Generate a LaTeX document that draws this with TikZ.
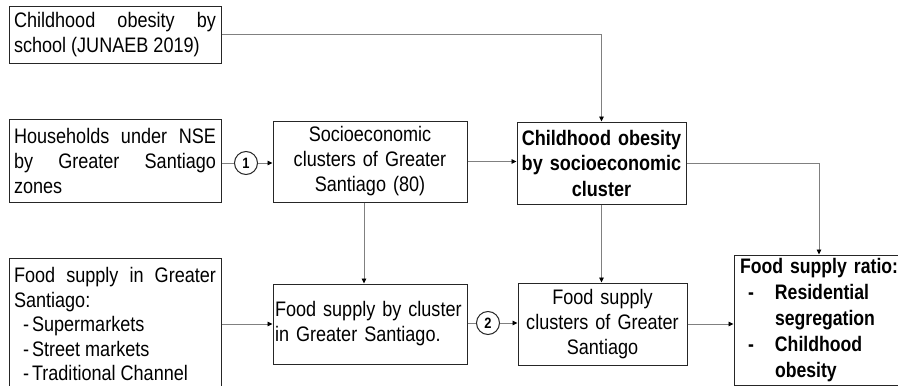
\documentclass[tikz,border=0pt]{standalone}
\usepackage{fontspec}
\setmainfont{Liberation Sans}[FakeStretch=0.86]
\newfontfamily\ratiofont{Liberation Sans}[FakeStretch=0.84]
\usetikzlibrary{arrows.meta}

\begin{document}
\begin{tikzpicture}[x=1pt, y=-1pt,
    box/.style={draw=black!85, line width=1pt, inner xsep=5pt, inner ysep=0pt,
        font=\fontsize{21}{25}\selectfont},
    conn/.style={draw=black!50, line width=0.9pt},
    arr/.style={conn, -{Triangle[length=5pt, width=4.5pt, black]}},
    num/.style={draw=black!85, circle, line width=1pt, inner sep=0pt, minimum size=23pt,
        font=\fontsize{15}{15}\selectfont\bfseries}]
    \clip (0,0) rectangle (898,386);
    \node[box, text width=202pt, minimum height=57pt, align=justify] (obschool) at (115,34.5)
        {Childhood obesity by\linebreak school (JUNAEB 2019)};
    \node[box, text width=202pt, minimum height=83pt, align=justify] (house) at (115,160.5)
        {Households under NSE\linebreak by Greater Santiago\linebreak zones};
    \node[box, text width=184pt, minimum height=81pt, align=center] (socio) at (370,161.5)
        {Socioeconomic\\ clusters of Greater\\ Santiago (80)};
    \node[box, text width=163pt, inner xsep=3pt, minimum height=82pt, align=center,
        font=\fontsize{21}{25.5}\selectfont\bfseries] (obclust) at (601.5,163)
        {Childhood obesity\\ by socioeconomic\\ cluster};
    \node[box, text width=202pt, minimum height=132pt, align=justify,
        font=\fontsize{21}{24.5}\selectfont] (fsupply) at (115,324)
        {Food supply in Greater\linebreak Santiago:\\
        \hspace*{9pt}-\hspace{3pt}Supermarkets\\
        \hspace*{9pt}-\hspace{3pt}Street markets\\
        \hspace*{9pt}-\hspace{3pt}Traditional Channel};
    \node[box, text width=190pt, inner xsep=2pt, minimum height=80pt, align=left] (fbycl) at (370,324)
        {Food supply by cluster\\ in Greater Santiago.};
    \node[box, text width=163pt, inner xsep=3pt, minimum height=82pt, align=center] (fclust) at (602.5,324)
        {Food supply\\ clusters of Greater\\ Santiago};
    \node[box, text width=178pt, inner xsep=6pt, minimum height=130pt, align=left,
        font=\fontsize{21}{26}\ratiofont\bfseries] (ratio) at (829,320)
        {Food supply ratio:\\
        \makebox[35pt][l]{\hspace*{8pt}-}Residential\\
        \hspace*{35pt}segregation\\
        \makebox[35pt][l]{\hspace*{8pt}-}Childhood\\
        \hspace*{35pt}obesity};
    \node[num] (c1) at (246,163) {1};
    \node[num] (c2) at (488,323) {2};
    \draw[arr] (obschool.east) -| (obclust.north);
    \draw[conn] (c1 -| house.east) -- (c1);
    \draw[arr] (c1) -- (c1 -| socio.west);
    \draw[arr] (socio.east) -- (socio.east -| obclust.west);
    \draw[arr] (obclust.east) -| ([xshift=-10pt]ratio.north);
    \draw[arr] ([xshift=-6pt]socio.south) -- ([xshift=-6pt]socio.south |- fbycl.north);
    \draw[arr] (fsupply.east) -- (fsupply.east -| fbycl.west);
    \draw[conn] (c2 -| fbycl.east) -- (c2);
    \draw[arr] (c2) -- (c2 -| fclust.west);
    \draw[arr] (obclust.south) -- (obclust.south |- fclust.north);
    \draw[arr] (fclust.east) -- (fclust.east -| ratio.west);
\end{tikzpicture}
\end{document}
